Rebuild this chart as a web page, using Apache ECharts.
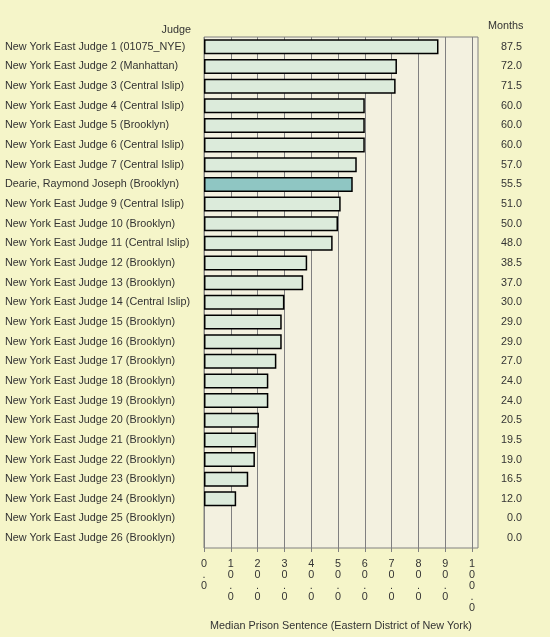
<!DOCTYPE html>
<html><head><meta charset="utf-8">
<script src="https://cdn.jsdelivr.net/npm/echarts@6/dist/echarts.min.js"></script>
<style>html,body{margin:0;padding:0;background:#f5f5c9;}#c{width:550px;height:637px;}</style>
</head><body><div id="c"></div>
<script>
var judges = [
  "New York East Judge 1 (01075_NYE)",
  "New York East Judge 2 (Manhattan)",
  "New York East Judge 3 (Central Islip)",
  "New York East Judge 4 (Central Islip)",
  "New York East Judge 5 (Brooklyn)",
  "New York East Judge 6 (Central Islip)",
  "New York East Judge 7 (Central Islip)",
  "Dearie, Raymond Joseph (Brooklyn)",
  "New York East Judge 9 (Central Islip)",
  "New York East Judge 10 (Brooklyn)",
  "New York East Judge 11 (Central Islip)",
  "New York East Judge 12 (Brooklyn)",
  "New York East Judge 13 (Brooklyn)",
  "New York East Judge 14 (Central Islip)",
  "New York East Judge 15 (Brooklyn)",
  "New York East Judge 16 (Brooklyn)",
  "New York East Judge 17 (Brooklyn)",
  "New York East Judge 18 (Brooklyn)",
  "New York East Judge 19 (Brooklyn)",
  "New York East Judge 20 (Brooklyn)",
  "New York East Judge 21 (Brooklyn)",
  "New York East Judge 22 (Brooklyn)",
  "New York East Judge 23 (Brooklyn)",
  "New York East Judge 24 (Brooklyn)",
  "New York East Judge 25 (Brooklyn)",
  "New York East Judge 26 (Brooklyn)"
];
var months = [87.5, 72.0, 71.5, 60.0, 60.0, 60.0, 57.0, 55.5, 51.0, 50.0, 48.0, 38.5, 37.0, 30.0, 29.0, 29.0, 27.0, 24.0, 24.0, 20.5, 19.5, 19.0, 16.5, 12.0, 0.0, 0.0];
var highlightJudge = "Dearie, Raymond Joseph (Brooklyn)";
var xTicks = [0, 10, 20, 30, 40, 50, 60, 70, 80, 90, 100];

var font = "'Liberation Sans', Arial, sans-serif";
var txt = '#333333';
var fs = 10.8;
var chart = echarts.init(document.getElementById('c'), null, {renderer: 'canvas'});
chart.setOption({
  backgroundColor: '#f5f5c9',
  animation: false,
  grid: {left: 204, top: 37, width: 274, height: 511, show: true, backgroundColor: '#f3f1e0', borderColor: '#808080', borderWidth: 1},
  graphic: [
    {type: 'text', right: 359, top: 25, style: {text: 'Judge', font: fs + 'px ' + font, fill: txt, textAlign: 'right'}},
    {type: 'text', left: 488, top: 21, style: {text: 'Months', font: fs + 'px ' + font, fill: txt}}
  ],
  xAxis: {
    type: 'value', min: 0, max: 102.24,
    name: 'Median Prison Sentence (Eastern District of New York)',
    nameLocation: 'middle', nameGap: 73,
    nameTextStyle: {fontFamily: font, fontSize: fs, color: txt},
    axisLine: {show: false},
    axisTick: {show: true, length: 4, lineStyle: {color: '#808080'}, customValues: xTicks},
    axisLabel: {customValues: xTicks, fontFamily: font, fontSize: fs, color: txt, lineHeight: 11, margin: 11,
      formatter: function (v) { return v.toFixed(1).split('').join('\n'); }},
    splitLine: {show: true, lineStyle: {color: '#808080', width: 1}}
  },
  yAxis: [
    {type: 'category', data: judges, inverse: true,
     axisLine: {show: false}, axisTick: {show: false},
     axisLabel: {align: 'left', margin: 199, fontFamily: font, fontSize: fs, color: txt, padding: [2, 0, 0, 0]}},
    {type: 'category', data: months.map(function (m) { return m.toFixed(1); }), inverse: true, position: 'right',
     axisLine: {show: false}, axisTick: {show: false},
     axisLabel: {align: 'right', margin: 44, fontFamily: font, fontSize: fs, color: txt, padding: [2, 0, 0, 0]}}
  ],
  series: [{
    type: 'bar', yAxisIndex: 0, barWidth: 15,
    data: months.map(function (m, i) {
      return {value: m, itemStyle: {
        color: judges[i] === highlightJudge ? '#8fc6c3' : '#dcebdb',
        borderWidth: m > 0 ? 1.5 : 0
      }};
    }),
    itemStyle: {borderColor: '#000000'}
  }]
});
</script></body></html>
